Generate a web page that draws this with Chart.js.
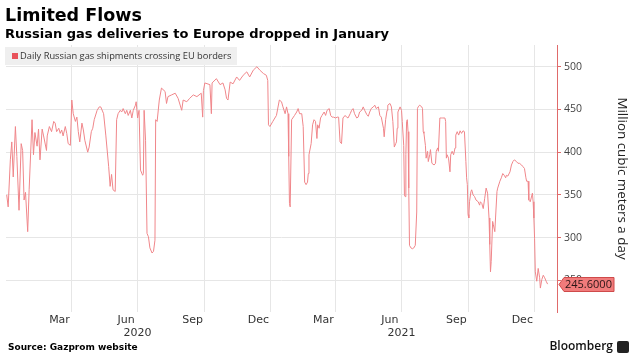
<!DOCTYPE html>
<html>
<head>
<meta charset="utf-8">
<title>Limited Flows</title>
<script src="https://cdn.jsdelivr.net/npm/chart.js@4.4.0/dist/chart.umd.min.js"></script>
<style>
  html, body { margin: 0; padding: 0; background: #fff; }
  #frame { position: relative; width: 636px; height: 361px; overflow: hidden; }
  #flows { position: absolute; left: 0; top: 0; }
  .headline { position: absolute; left: 5px; top: 5px; font: bold 17.5px/20px 'DejaVu Sans', sans-serif; color: #000; white-space: nowrap; }
  .subhead { position: absolute; left: 5px; top: 26px; font: bold 13px/15px 'DejaVu Sans', sans-serif; color: #000; white-space: nowrap; }
  .legend { position: absolute; left: 5px; top: 47px; width: 232px; height: 18px; background: #efefef;
            font: 9.3px/18px 'Open Sans', sans-serif; color: #333; white-space: nowrap; box-sizing: border-box; padding-left: 15px; }
  .legend i { position: absolute; left: 7px; top: 6px; width: 6px; height: 6px; background: #e8525a; }
  .source { position: absolute; left: 8px; top: 341px; font: bold 9px/12px 'DejaVu Sans', sans-serif; color: #000; white-space: nowrap; }
  .brand { position: absolute; right: 23px; top: 338px; font: 600 12px/16px 'Open Sans', sans-serif; color: #111; white-space: nowrap; }
  .brand-icon { position: absolute; left: 617px; top: 341px; width: 12px; height: 12px; background: #222; border-radius: 2px; }
</style>
</head>
<body>
<div id="frame">
  <canvas id="flows" width="636" height="361"></canvas>
  <div class="headline">Limited Flows</div>
  <div class="subhead">Russian gas deliveries to Europe dropped in January</div>
  <div class="legend"><i></i>Daily Russian gas shipments crossing EU borders</div>
  <div class="source">Source: Gazprom website</div>
  <div class="brand">Bloomberg</div>
  <div class="brand-icon"></div>
</div>
<script>
// days counted from 1 Jan 2020
const dayIndex = [
  1, 3, 6, 8, 10, 13, 15, 18, 21, 23,
  25, 27, 30, 32, 36, 38, 40, 43, 45, 47,
  50, 52, 56, 57, 60, 63, 66, 68, 70, 73,
  75, 77, 79, 82, 84, 86, 89, 91, 93, 96,
  98, 100, 102, 105, 107, 109, 113, 115, 118, 120,
  122, 126, 129, 131, 135, 138, 142, 144, 146, 148,
  151, 153, 155, 158, 160, 162, 165, 167, 169, 172,
  174, 176, 179, 180, 182, 184, 186, 189, 190, 191,
  193, 195, 197, 199, 202, 204, 206, 207, 209, 212,
  215, 220, 222, 224, 229, 234, 238, 243, 245, 250,
  254, 259, 264, 270, 272, 273, 275, 282, 284, 285,
  291, 296, 300, 303, 305, 307, 310, 314, 319, 323,
  328, 333, 337, 342, 347, 351, 356, 360, 362, 363,
  365, 369, 374, 378, 381, 383, 386, 388, 390, 391,
  392, 393, 395, 399, 402, 404, 406, 409, 411, 413,
  415, 417, 418, 419, 422, 424, 426, 428, 430, 431,
  433, 435, 437, 440, 442, 444, 447, 449, 451, 453,
  456, 458, 460, 462, 464, 466, 469, 471, 473, 476,
  478, 480, 482, 485, 487, 489, 492, 494, 496, 499,
  501, 503, 505, 508, 510, 512, 515, 517, 519, 522,
  523, 525, 527, 528, 531, 533, 535, 537, 539, 540,
  541, 542, 545, 547, 548, 550, 551, 552, 553, 554,
  555, 556, 557, 558, 560, 562, 564, 566, 568, 569,
  570, 572, 575, 576, 577, 578, 580, 581, 583, 584,
  586, 587, 589, 592, 594, 595, 597, 598, 600, 602,
  604, 607, 608, 609, 610, 612, 614, 615, 617, 619,
  621, 622, 624, 626, 628, 630, 632, 634, 636, 637,
  638, 639, 640, 641, 643, 644, 646, 648, 650, 653,
  655, 656, 658, 660, 662, 664, 666, 668, 669, 670,
  671, 673, 674, 676, 677, 679, 680, 683, 685, 687,
  689, 691, 692, 694, 697, 699, 701, 703, 706, 708,
  710, 713, 715, 717, 719, 720, 722, 723, 725, 726,
  728, 729, 730, 731, 732, 734, 736, 738, 739, 741,
  743, 745, 747, 749
];

// million cubic meters a day
const flowValues = [
  350, 336, 391, 412, 371, 430, 395, 332, 410, 402,
  344, 353, 307, 356, 438, 397, 423, 407, 427, 391,
  427, 419, 402, 419, 430, 424, 436, 434, 424, 428,
  422, 426, 419, 430, 422, 410, 408, 461, 445, 436,
  441, 424, 412, 434, 426, 414, 400, 406, 424, 428,
  438, 449, 453, 453, 445, 420, 383, 360, 374, 356,
  354, 438, 445, 449, 447, 451, 445, 449, 443, 449,
  440, 449, 455, 459, 440, 449, 379, 373, 375, 449,
  414, 305, 301, 288, 282, 284, 297, 438, 436, 461,
  475, 471, 457, 465, 467, 469, 463, 449, 461, 459,
  463, 467, 465, 469, 441, 472, 481, 479, 445, 481,
  486, 479, 481, 473, 463, 461, 482, 480, 488, 484,
  490, 494, 488, 496, 500, 496, 492, 490, 484, 432,
  430, 436, 443, 461, 459, 453, 445, 453, 445, 395,
  340, 336, 438, 443, 447, 451, 445, 445, 430, 365,
  362, 365, 375, 397, 410, 432, 438, 436, 416, 432,
  428, 440, 443, 447, 443, 449, 451, 443, 441, 441,
  440, 441, 441, 412, 410, 440, 443, 441, 440, 445,
  449, 451, 445, 440, 441, 447, 449, 453, 449, 444,
  442, 447, 451, 453, 455, 451, 453, 443, 441, 428,
  418, 438, 449, 455, 457, 453, 436, 406, 410, 412,
  428, 447, 453, 449, 436, 408, 350, 348, 397, 436,
  438, 424, 358, 291, 288, 287, 288, 291, 330, 451,
  453, 455, 453, 451, 424, 422, 408, 393, 401, 389,
  397, 403, 387, 385, 387, 401, 405, 401, 440, 440,
  440, 440, 436, 393, 397, 393, 377, 397, 401, 397,
  405, 420, 424, 420, 425, 422, 425, 424, 389, 370,
  362, 327, 323, 342, 354, 356, 350, 348, 344, 342,
  338, 342, 340, 334, 346, 358, 352, 323, 292, 260,
  272, 319, 315, 307, 323, 354, 358, 366, 370, 375,
  373, 370, 373, 372, 377, 385, 389, 391, 389, 387,
  387, 385, 383, 381, 370, 366, 366, 344, 342, 342,
  352, 342, 323, 299, 260, 249, 264, 253, 241, 251,
  256, 253, 249, 245.6
];

// quarter boundaries (grid), mid-month labels, mid-year labels
const gridDays = [91, 182, 274, 366, 456, 547, 639, 731];
const monthDays = [74, 166, 258, 349, 439, 531, 623, 714];
const monthLabels = ['Mar', 'Jun', 'Sep', 'Dec', 'Mar', 'Jun', 'Sep', 'Dec'];
const yearDays = [182, 547];
const yearLabels = ['2020', '2021'];
const yTicks = [250, 300, 350, 400, 450, 500];

const X_MIN = 0;
const X_MAX = 762;
const LINE_RED = '#f0868a';
const AXIS_RED = '#e06a6a';
const GRID_GREY = '#e6e6e6';

function fixedTicks(values) {
    return function (scale) {
        scale.ticks = values.map(v => ({ value: v }));
    };
}

// Tag with the latest value on the right axis
const lastValueTag = {
    id: 'lastValueTag',
    afterDraw(chart) {
        const ctx = chart.ctx;
        const yScale = chart.scales.y;
        const last = flowValues[flowValues.length - 1];
        const y = Math.round(yScale.getPixelForValue(last)) + 0.5;
        const x0 = chart.chartArea.right + 2;
        const x1 = x0 + 5;
        const x2 = x1 + 50;
        const h = 7;
        ctx.save();
        ctx.beginPath();
        ctx.moveTo(x0, y);
        ctx.lineTo(x1, y - h);
        ctx.lineTo(x2, y - h);
        ctx.lineTo(x2, y + h);
        ctx.lineTo(x1, y + h);
        ctx.closePath();
        ctx.fillStyle = '#f07b7b';
        ctx.fill();
        ctx.strokeStyle = '#cf4a4a';
        ctx.lineWidth = 1;
        ctx.stroke();
        ctx.fillStyle = '#2a1515';
        ctx.font = "11px 'Open Sans', sans-serif";
        ctx.textBaseline = 'middle';
        ctx.textAlign = 'left';
        ctx.fillText(last.toFixed(4), x1 + 1, y + 0.5);
        ctx.restore();
    }
};

// label-only axis along the bottom
function labelAxis(weight, tickDays, labels, pad, height) {
    return {
        type: 'linear', position: 'bottom', weight: weight,
        min: X_MIN, max: X_MAX,
        afterBuildTicks: fixedTicks(tickDays),
        ticks: {
            autoSkip: false, maxRotation: 0, minRotation: 0, padding: pad,
            color: '#333',
            font: { family: "'DejaVu Sans', sans-serif", size: 11 },
            callback: (v, i) => labels[i]
        },
        grid: { display: false, drawTicks: false },
        border: { display: false },
        afterFit: s => { s.height = height; }
    };
}

const ctx = document.getElementById('flows');
new Chart(ctx, {
    type: 'line',
    data: {
        datasets: [{
            label: 'Daily Russian gas shipments crossing EU borders',
            data: dayIndex.map((d, i) => ({ x: d, y: flowValues[i] })),
            borderColor: LINE_RED,
            borderWidth: 1,
            pointRadius: 0,
            tension: 0,
            fill: false
        }]
    },
    options: {
        responsive: false,
        animation: false,
        layout: { padding: { left: 6, top: 45, right: 0, bottom: 21 } },
        plugins: {
            legend: { display: false },
            tooltip: { enabled: false }
        },
        scales: {
            x: {
                type: 'linear', position: 'bottom', weight: 0,
                min: X_MIN, max: X_MAX,
                afterBuildTicks: fixedTicks(gridDays),
                ticks: { display: false },
                grid: { color: GRID_GREY, drawTicks: false },
                border: { display: false },
                afterFit: s => { s.height = 0; }
            },
            xm: labelAxis(1, monthDays, monthLabels, 2, 14),
            xy: labelAxis(2, yearDays, yearLabels, 1, 14),
            y: {
                type: 'linear', position: 'right',
                min: 213, max: 525.4,
                afterBuildTicks: fixedTicks(yTicks),
                ticks: {
                    padding: 3,
                    color: '#444',
                    font: { family: "'Open Sans', sans-serif", size: 10.5 },
                    callback: v => String(v)
                },
                grid: { color: GRID_GREY, tickColor: AXIS_RED, tickLength: 4 },
                border: { color: AXIS_RED, width: 1 },
                title: {
                    display: true,
                    text: 'Million cubic meters a day',
                    color: '#222',
                    font: { family: "'Open Sans', sans-serif", size: 13.4 },
                    padding: { top: 6, bottom: 0 }
                },
                afterFit: s => { s.width = 79; }
            }
        }
    },
    plugins: [lastValueTag]
});
</script>
</body>
</html>
